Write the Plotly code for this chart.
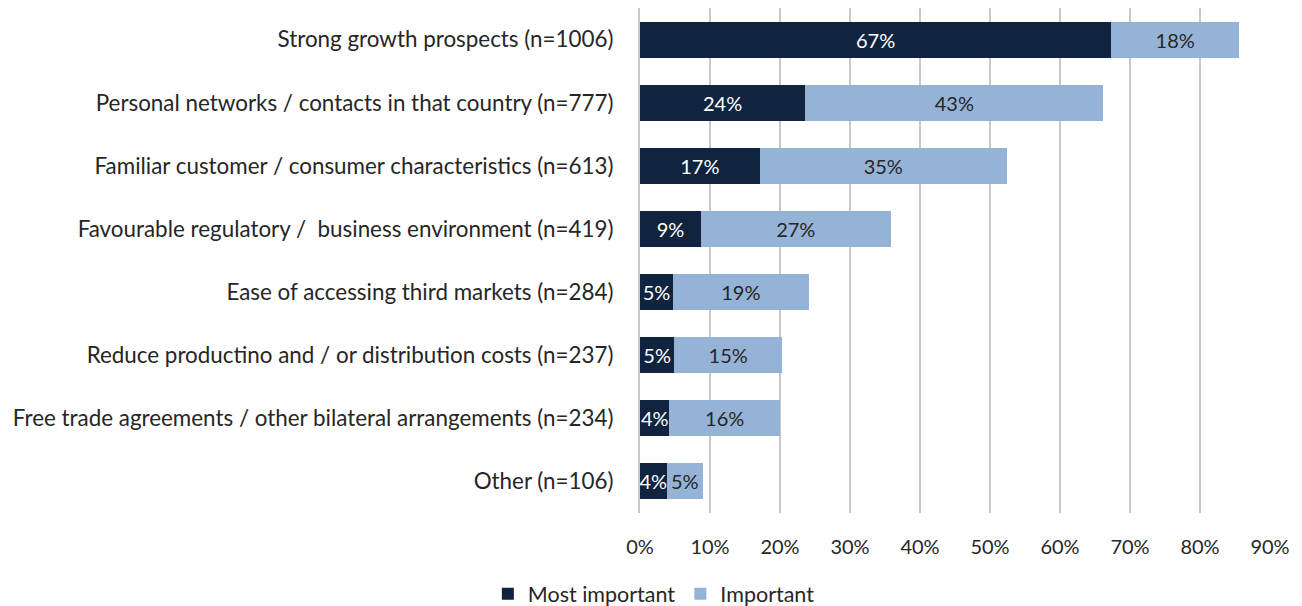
import plotly.graph_objects as go

categories = [
    "Strong growth prospects (n=1006)",
    "Personal networks / contacts in that country (n=777)",
    "Familiar customer / consumer characteristics (n=613)",
    "Favourable regulatory /  business environment (n=419)",
    "Ease of accessing third markets (n=284)",
    "Reduce productino and / or distribution costs (n=237)",
    "Free trade agreements / other bilateral arrangements (n=234)",
    "Other (n=106)",
]
most_important = [67.3, 23.6, 17.1, 8.7, 4.7, 4.9, 4.2, 3.8]
important = [18.3, 42.6, 35.3, 27.1, 19.4, 15.4, 15.8, 5.2]
most_labels = ["67%", "24%", "17%", "9%", "5%", "5%", "4%", "4%"]
imp_labels = ["18%", "43%", "35%", "27%", "19%", "15%", "16%", "5%"]
tick_vals = [0, 10, 20, 30, 40, 50, 60, 70, 80, 90]
tick_text = ["0%", "10%", "20%", "30%", "40%", "50%", "60%", "70%", "80%", "90%"]

FONT = "Lato"
FS = 20
FS_CAT = 22.4
DARK = "#10243f"
LIGHT = "#95b3d7"
TXT = "#262626"

fig = go.Figure()
fig.add_trace(go.Bar(
    y=categories, x=most_important, orientation="h", name="Most important",
    marker=dict(color=DARK, line=dict(width=0)),
    text=most_labels, textposition="inside", insidetextanchor="middle",
    constraintext="none", textangle=0,
    textfont=dict(family=FONT, size=FS, color="white"),
))
fig.add_trace(go.Bar(
    y=categories, x=important, orientation="h", name="Important",
    marker=dict(color=LIGHT, line=dict(width=0)),
    text=imp_labels, textposition="inside", insidetextanchor="middle",
    constraintext="none", textangle=0,
    textfont=dict(family=FONT, size=FS, color=TXT),
))

fig.update_layout(
    barmode="stack",
    bargap=0.43,
    width=1294, height=598,
    margin=dict(l=632, r=32, t=0, b=93, autoexpand=False),
    paper_bgcolor="white", plot_bgcolor="white",
    font=dict(family=FONT, size=FS, color=TXT),
    showlegend=True,
    legend=dict(orientation="h", x=0.022, xanchor="center", y=-0.16, yanchor="middle",
                font=dict(family=FONT, size=21.5, color=TXT),
                traceorder="normal", itemwidth=30),
)
fig.update_xaxes(
    range=[0, 90], tickvals=tick_vals, ticktext=tick_text,
    showgrid=True, gridcolor="#c8c8c8", gridwidth=2,
    zeroline=False, showline=False, automargin=False,
    ticks="", ticklabelstandoff=20,
    tickfont=dict(family=FONT, size=FS, color=TXT),
)
fig.update_yaxes(
    autorange="reversed", showgrid=False, zeroline=False,
    showline=True, linecolor="#c8c8c8", linewidth=2, automargin=False,
    ticks="", ticklabelstandoff=20,
    tickfont=dict(family=FONT, size=FS_CAT, color=TXT),
)

fig.write_html("out.html")
